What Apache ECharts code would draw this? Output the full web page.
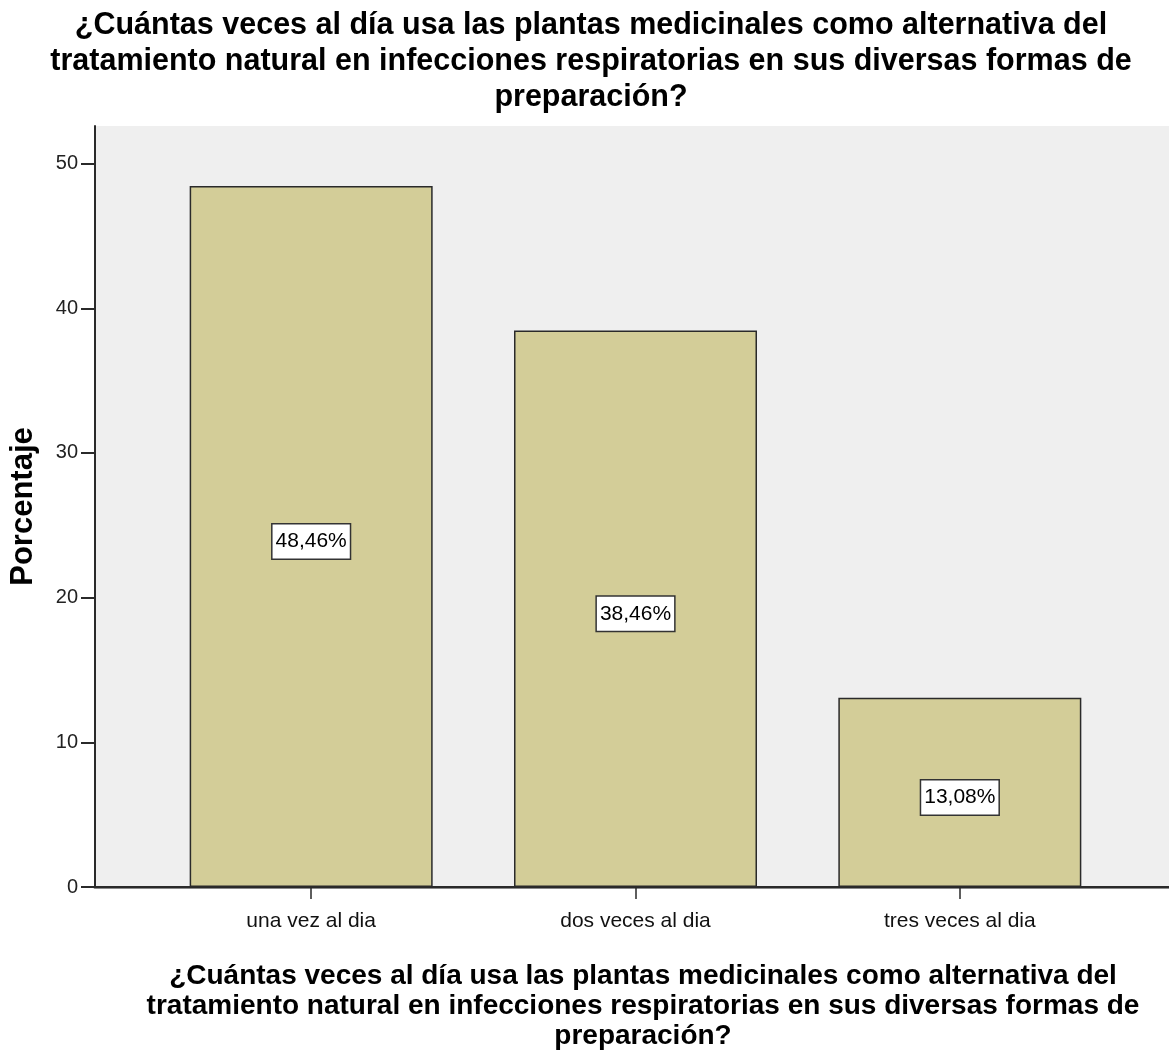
<!DOCTYPE html>
<html><head><meta charset="utf-8">
<script src="https://cdn.jsdelivr.net/npm/echarts@6/dist/echarts.min.js"></script>
<style>html,body{margin:0;padding:0;background:#fff}#c{width:1169px;height:1051px}</style>
</head><body><div id="c"></div>
<script>
const titleText = '¿Cuántas veces al día usa las plantas medicinales como alternativa del\ntratamiento natural en infecciones respiratorias en sus diversas formas de\npreparación?';
const categories = ['una vez al dia', 'dos veces al dia', 'tres veces al dia'];
const values = [48.46, 38.46, 13.08];
const valueLabels = ['48,46%', '38,46%', '13,08%'];
const yTicks = [0, 10, 20, 30, 40, 50];
const yMax = 52.6;
const yName = 'Porcentaje';

const font = 'Liberation Sans, Arial, sans-serif';
const chart = echarts.init(document.getElementById('c'), null, {renderer: 'canvas'});
chart.setOption({
  animation: false,
  backgroundColor: '#ffffff',
  title: [
    {text: titleText, left: 586, top: 3, textAlign: 'center',
     textStyle: {fontFamily: font, fontSize: 30.5, fontWeight: 'bold', color: '#000', lineHeight: 36}},
    {text: titleText, left: 638, top: 956, textAlign: 'center',
     textStyle: {fontFamily: font, fontSize: 28, fontWeight: 'bold', color: '#000', lineHeight: 30}}
  ],
  grid: [
    {left: 95, right: -10, top: 126, bottom: 164, show: true, backgroundColor: '#efefef', borderWidth: 0},
    {left: 149, right: 47, top: 126, bottom: 164}
  ],
  xAxis: [
    {gridIndex: 0, type: 'value', position: 'top', min: 0, max: 1,
     axisLine: {show: true, lineStyle: {color: '#8a8a8a', width: 3}},
     axisTick: {show: false}, axisLabel: {show: false}, splitLine: {show: false}},
    {gridIndex: 0, type: 'value', position: 'bottom', min: 0, max: 1,
     axisLine: {show: true, lineStyle: {color: '#2a2a2a', width: 2}},
     axisTick: {show: false}, axisLabel: {show: false}, splitLine: {show: false}},
    {gridIndex: 1, type: 'category', data: categories, position: 'bottom',
     axisLine: {show: false},
     axisTick: {show: true, alignWithLabel: true, length: 12, lineStyle: {color: '#2a2a2a', width: 1.5}},
     axisLabel: {fontFamily: font, fontSize: 21, color: '#111', margin: 24},
     splitLine: {show: false}}
  ],
  yAxis: [
    {gridIndex: 0, type: 'value', min: 0, max: yMax, interval: 10,
     name: yName, nameLocation: 'middle', nameGap: 56, nameRotate: 90,
     nameTextStyle: {fontFamily: font, fontSize: 31, fontWeight: 'bold', color: '#000'},
     axisLine: {show: true, lineStyle: {color: '#2a2a2a', width: 2}},
     axisTick: {show: true, length: 14, customValues: yTicks, lineStyle: {color: '#2a2a2a', width: 2}},
     axisLabel: {fontFamily: font, fontSize: 20, color: '#222', margin: 17, customValues: yTicks},
     splitLine: {show: false}},
    {gridIndex: 1, type: 'value', min: 0, max: yMax, show: false}
  ],
  series: [{
    type: 'bar', xAxisIndex: 2, yAxisIndex: 1,
    data: values, barWidth: 243,
    itemStyle: {color: '#d3cd98', borderColor: '#2a2a2a', borderWidth: 1.5},
    label: {show: true, position: 'inside', offset: [0, 5],
      formatter: p => valueLabels[p.dataIndex],
      fontFamily: font, fontSize: 21, color: '#000',
      backgroundColor: '#fff', borderColor: '#333', borderWidth: 1.5, padding: [7, 3, 6, 3]}
  }]
});
</script></body></html>
